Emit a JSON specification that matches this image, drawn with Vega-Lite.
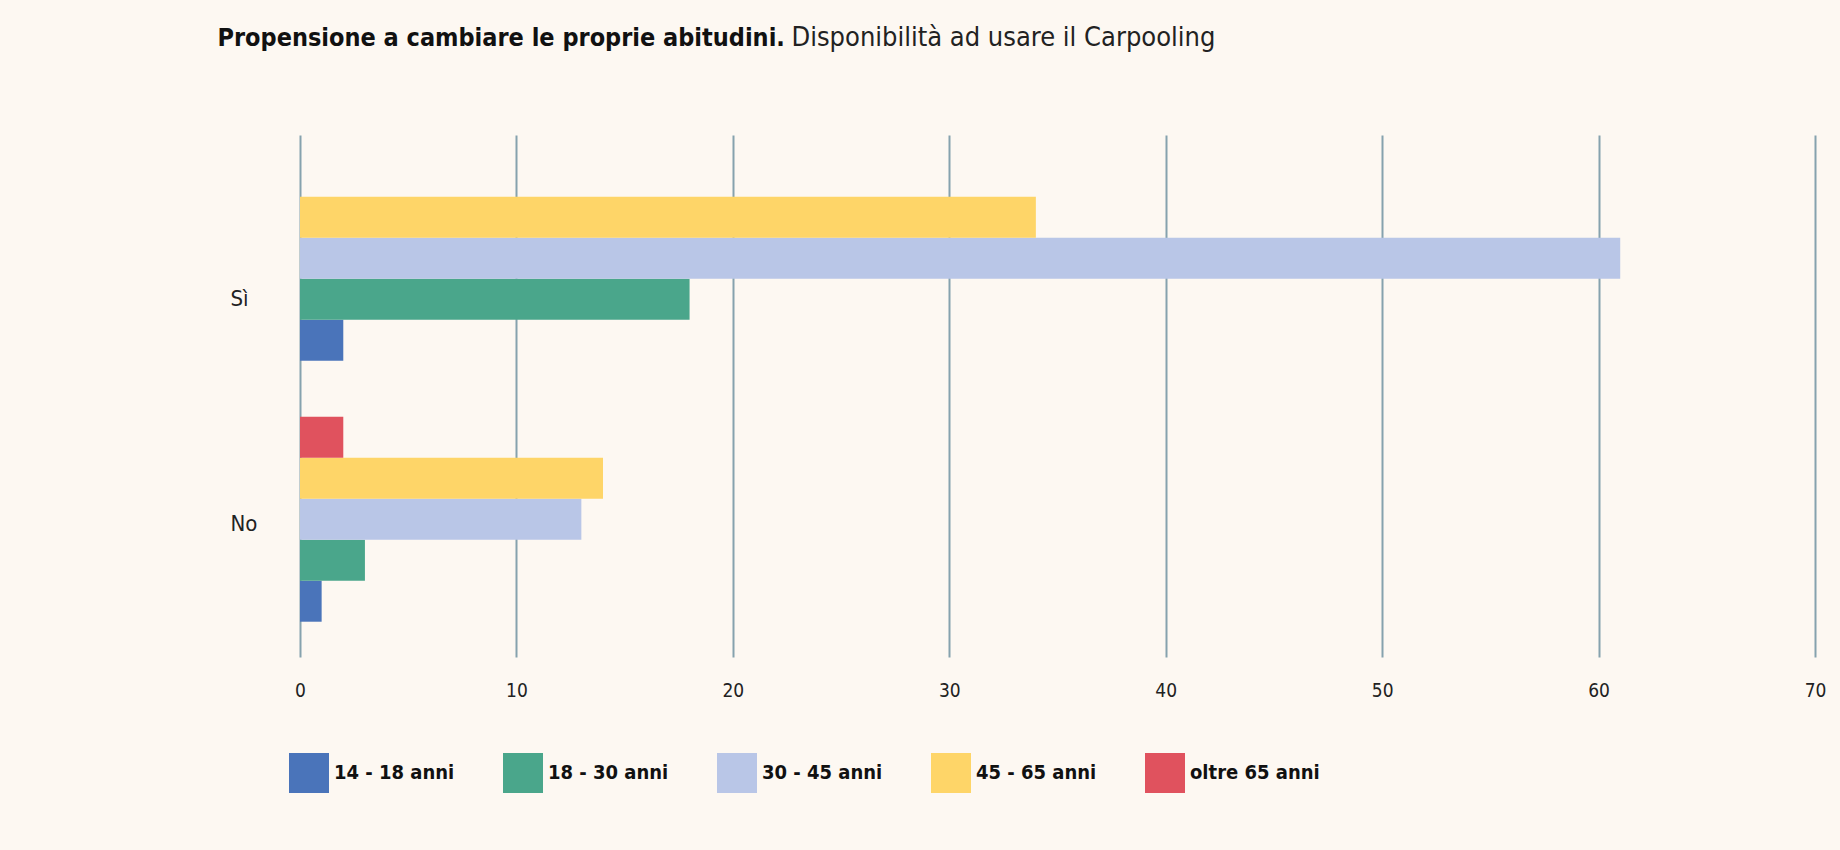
{
  "$schema": "https://vega.github.io/schema/vega-lite/v6.json",
  "width": 1515,
  "height": 522,
  "autosize": {"type": "none"},
  "padding": {"left": 300, "top": 135, "right": 25, "bottom": 193},
  "background": "#fdf8f2",
  "data": {
    "values": [
      {"risposta": "Sì", "eta": "14 - 18 anni", "valore": 2},
      {"risposta": "Sì", "eta": "18 - 30 anni", "valore": 18},
      {"risposta": "Sì", "eta": "30 - 45 anni", "valore": 61},
      {"risposta": "Sì", "eta": "45 - 65 anni", "valore": 34},
      {"risposta": "No", "eta": "14 - 18 anni", "valore": 1},
      {"risposta": "No", "eta": "18 - 30 anni", "valore": 3},
      {"risposta": "No", "eta": "30 - 45 anni", "valore": 13},
      {"risposta": "No", "eta": "45 - 65 anni", "valore": 14},
      {"risposta": "No", "eta": "oltre 65 anni", "valore": 2}
    ]
  },
  "mark": {"type": "bar"},
  "encoding": {
    "y": {
      "field": "risposta",
      "type": "nominal",
      "sort": ["Sì", "No"],
      "scale": {"paddingInner": 0, "paddingOuter": 0},
      "axis": {
        "title": "Disponibilità ad usare il Carpooling",
        "titleAngle": 0,
        "titleAlign": "left",
        "titleBaseline": "alphabetic",
        "titleX": 491,
        "titleY": -90,
        "titleFont": "DejaVu Sans Condensed",
        "titleFontSize": 27,
        "titleFontWeight": "normal",
        "titleColor": "#222222",
        "ticks": false,
        "domain": false,
        "labelAlign": "left",
        "labelPadding": 70,
        "labelOffset": {"condition": {"test": "datum.value === 'Sì'", "value": 33}, "value": -3},
        "labelFont": "DejaVu Sans Condensed",
        "labelFontSize": 22,
        "labelColor": "#222222"
      }
    },
    "yOffset": {
      "field": "eta",
      "type": "nominal",
      "scale": {
        "domain": ["oltre 65 anni", "45 - 65 anni", "30 - 45 anni", "18 - 30 anni", "14 - 18 anni"],
        "paddingInner": 0,
        "paddingOuter": 0.683,
        "align": 0.37
      }
    },
    "x": {
      "field": "valore",
      "type": "quantitative",
      "scale": {"domain": [0, 70], "nice": false},
      "axis": {
        "title": "Propensione a cambiare le proprie abitudini.",
        "titleAngle": 0,
        "titleAlign": "left",
        "titleBaseline": "alphabetic",
        "titleX": -83,
        "titleY": -612,
        "titleFont": "DejaVu Sans Condensed",
        "titleFontSize": 25,
        "titleFontWeight": "bold",
        "titleColor": "#111111",
        "values": [0, 10, 20, 30, 40, 50, 60, 70],
        "ticks": false,
        "domain": false,
        "grid": true,
        "gridColor": "#86a2ae",
        "gridWidth": 2,
        "gridOpacity": 1,
        "labelPadding": 24,
        "labelFont": "DejaVu Sans Condensed",
        "labelFontSize": 19,
        "labelColor": "#222222",
        "labelFlush": false
      }
    },
    "color": {
      "field": "eta",
      "type": "nominal",
      "scale": {
        "domain": ["14 - 18 anni", "18 - 30 anni", "30 - 45 anni", "45 - 65 anni", "oltre 65 anni"],
        "range": ["#4a74ba", "#4aa68b", "#b9c6e7", "#fed568", "#e0525e"]
      },
      "legend": {
        "title": null,
        "orient": "none",
        "legendX": -11,
        "legendY": 618,
        "direction": "horizontal",
        "columns": 5,
        "gridAlign": "all",
        "columnPadding": 39,
        "symbolType": "square",
        "symbolSize": 1600,
        "symbolStrokeWidth": 0,
        "symbolOpacity": 1,
        "labelOffset": 5,
        "labelFont": "DejaVu Sans Condensed",
        "labelFontSize": 20,
        "labelFontWeight": "bold",
        "labelColor": "#111111"
      }
    }
  },
  "config": {
    "view": {"stroke": null},
    "axis": {"gridDash": []}
  }
}
